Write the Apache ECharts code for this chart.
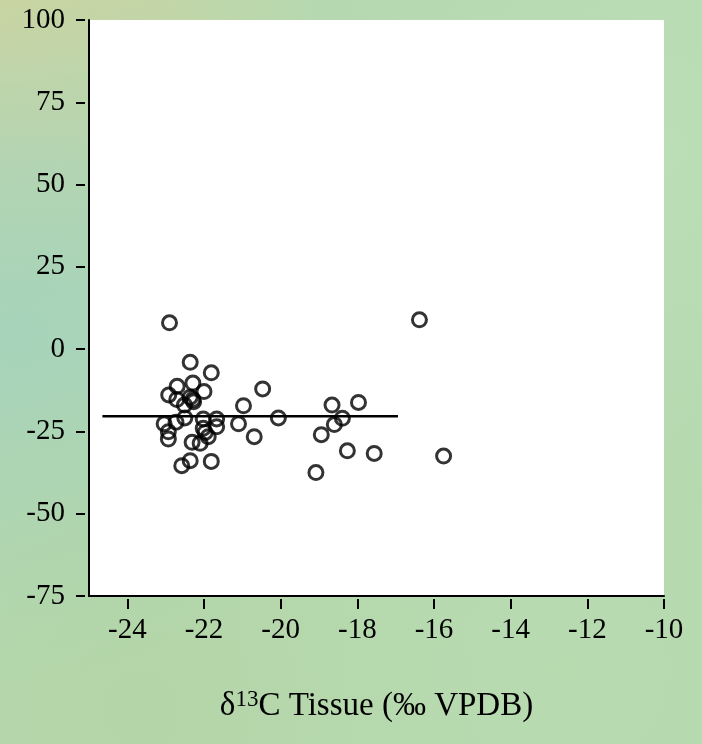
<!DOCTYPE html>
<html>
<head>
<meta charset="utf-8">
<style>
  html, body { margin: 0; padding: 0; }
  #chart { width: 702px; height: 744px; }
</style>
<script src="https://cdn.jsdelivr.net/npm/echarts@6/dist/echarts.min.js"></script>
</head>
<body>
<div id="chart"></div>
<script>
// Tissue carbon isotope values (x) against the response variable (y)
var xVals = [-22.9, -22.36, -21.81, -22.7, -22.29, -22.92, -22.0, -22.71, -22.36, -22.29,
             -22.51, -22.27, -20.47, -20.97, -20.06, -23.04, -22.73, -22.5, -22.02, -21.67,
             -21.1, -21.67, -22.93, -22.93, -22.02, -21.97, -21.89, -20.69, -22.31, -22.1,
             -22.36, -21.81, -22.58, -16.38, -18.66, -17.97, -18.39, -18.6, -18.94, -18.26,
             -17.56, -15.75, -19.08];
var yVals = [8.0, -4.0, -7.2, -11.3, -10.3, -13.9, -12.9, -15.3, -14.6, -15.3,
             -17.0, -16.0, -12.1, -17.2, -20.9, -22.7, -22.2, -20.9, -21.2, -21.2,
             -22.7, -23.6, -25.1, -27.3, -24.0, -25.3, -26.6, -26.6, -28.3, -28.6,
             -33.9, -34.1, -35.4, 8.9, -17.0, -16.2, -21.0, -22.9, -26.0, -30.9,
             -31.7, -32.5, -37.5];

// Mean reference line
var meanLineX = [-24.65, -16.94];
var meanLineY = -20.4;

var xTicks = [-24, -22, -20, -18, -16, -14, -12, -10];
var yTicks = [-75, -50, -25, 0, 25, 50, 75, 100];

var points = xVals.map(function (x, i) { return [x, yVals[i]]; });
var meanLine = meanLineX.map(function (x) { return [x, meanLineY]; });

var serif = 'Liberation Serif';
var chart = echarts.init(document.getElementById('chart'), null, { renderer: 'canvas' });

// soft coloured patches layered over the green backdrop
function patch(cx, cy, r, rgb, a) {
  return {
    type: 'rect', z: -10, silent: true,
    shape: { x: 0, y: 0, width: 702, height: 744 },
    style: {
      fill: new echarts.graphic.RadialGradient(cx, cy, r, [
        { offset: 0, color: 'rgba(' + rgb + ',' + a + ')' },
        { offset: 0.5, color: 'rgba(' + rgb + ',' + (a * 0.6) + ')' },
        { offset: 1, color: 'rgba(' + rgb + ',0)' }
      ])
    }
  };
}

chart.setOption({
  backgroundColor: '#b6d8b0',
  animation: false,
  graphic: [
    patch(0.0, 0.0, 0.45, '205,212,160', 0.95),
    patch(0.03, 0.45, 0.5, '162,210,190', 0.75),
    patch(0.95, 0.2, 0.5, '188,224,184', 0.7),
    patch(0.2, 0.95, 0.5, '178,212,164', 0.7),
    patch(0.8, 0.9, 0.5, '186,220,176', 0.6)
  ],
  grid: {
    left: 89, top: 20, right: 38, bottom: 148,
    show: true, backgroundColor: '#ffffff', borderWidth: 0
  },
  xAxis: [{
    type: 'value', min: -25, max: -10,
    axisLine: { show: true, onZero: false, lineStyle: { color: '#000', width: 2 } },
    axisTick: { show: false }, axisLabel: { show: false }, splitLine: { show: false },
    name: '{a|δ}{s|13}{a|C Tissue (‰ VPDB)}',
    nameLocation: 'middle',
    nameGap: 92,
    nameTextStyle: {
      rich: {
        a: { fontFamily: serif, fontSize: 33, color: '#000', lineHeight: 36 },
        s: { fontFamily: serif, fontSize: 23, color: '#000', verticalAlign: 'top', lineHeight: 18 }
      }
    }
  }, {
    type: 'value', min: -25, max: -10, position: 'bottom', offset: 3,
    axisLine: { show: false, onZero: false },
    axisTick: { show: true, length: 10, customValues: xTicks, lineStyle: { color: '#000', width: 2 } },
    axisLabel: { show: true, customValues: xTicks, margin: 17, fontFamily: serif, fontSize: 29, color: '#000' },
    splitLine: { show: false }
  }],
  yAxis: [{
    type: 'value', min: -75, max: 100, interval: 25,
    axisLine: { show: true, onZero: false, lineStyle: { color: '#000', width: 2 } },
    axisTick: { show: false }, axisLabel: { show: false }, splitLine: { show: false }
  }, {
    type: 'value', min: -75, max: 100, interval: 25, position: 'left', offset: 4,
    axisLine: { show: false, onZero: false },
    axisTick: { show: true, length: 9, customValues: yTicks, lineStyle: { color: '#000', width: 2 } },
    axisLabel: { show: true, customValues: yTicks, margin: 20, fontFamily: serif, fontSize: 29, color: '#000' },
    splitLine: { show: false }
  }],
  series: [{
    type: 'line',
    data: meanLine,
    xAxisIndex: 0, yAxisIndex: 0,
    symbol: 'none',
    lineStyle: { color: '#000', width: 2.5 },
    z: 2
  }, {
    type: 'scatter',
    data: points,
    xAxisIndex: 0, yAxisIndex: 0,
    symbol: 'circle',
    symbolSize: 14,
    itemStyle: { color: 'rgba(255,255,255,0)', borderColor: '#000', borderWidth: 3 },
    z: 3
  }]
});
</script>
</body>
</html>
